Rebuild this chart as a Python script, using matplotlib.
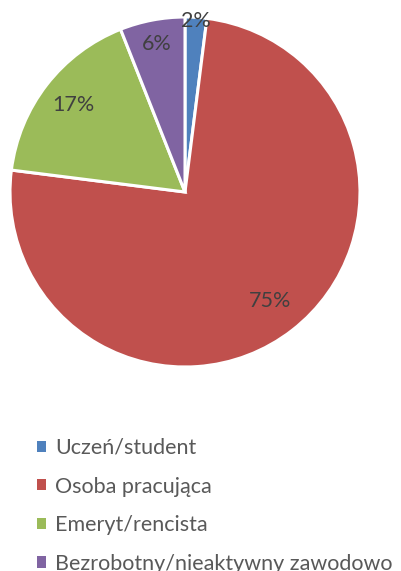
import matplotlib
matplotlib.use("Agg")
import matplotlib.pyplot as plt
from matplotlib.patches import Patch
import numpy as np

# ── data ─────────────────────────────────────────────────────────────────────
categories = ["Uczeń/student", "Osoba pracująca", "Emeryt/rencista",
              "Bezrobotny/nieaktywny zawodowo"]
shares = [2, 75, 17, 6]
pct_labels = ["2%", "75%", "17%", "6%"]

colors = ["#4F81BD", "#C0504D", "#9BBB59", "#8064A2"]
label_r = [0.98, 0.79, 0.81, 0.86]   # radial position of the % labels

plt.rcParams["font.family"] = ["Lato", "DejaVu Sans"]

W, H = 402, 571
fig = plt.figure(figsize=(W / 100, H / 100), dpi=100)

# pie centre (185, 192) px, radius 175 px
cx, cy, r = 185, 192, 175
ax = fig.add_axes([(cx - r) / W, (H - cy - r) / H, 2 * r / W, 2 * r / H])

wedges, _ = ax.pie(shares, colors=colors, startangle=90, counterclock=False,
                   wedgeprops=dict(edgecolor="white", linewidth=2.2))
for w in wedges:
    w.set_clip_on(False)
ax.set_xlim(-1, 1)
ax.set_ylim(-1, 1)
ax.set_aspect("equal")
ax.axis("off")

for w, lab, rr in zip(wedges, pct_labels, label_r):
    mid = np.deg2rad((w.theta1 + w.theta2) / 2)
    ax.text(rr * np.cos(mid), rr * np.sin(mid), lab, ha="center", va="center",
            fontsize=15.5, color="#404040")

# ── legend ───────────────────────────────────────────────────────────────────
handles = [Patch(facecolor=c, edgecolor="none") for c in colors]
fig.legend(handles, categories, loc="upper left",
           bbox_to_anchor=(37 / W, 1 - 438 / H), frameon=False,
           fontsize=15.5, labelcolor="#595959", handlelength=0.43,
           handleheight=0.43, handletextpad=0.4, labelspacing=0.86,
           borderaxespad=0, borderpad=0)

fig.savefig("out.png", dpi=100)
